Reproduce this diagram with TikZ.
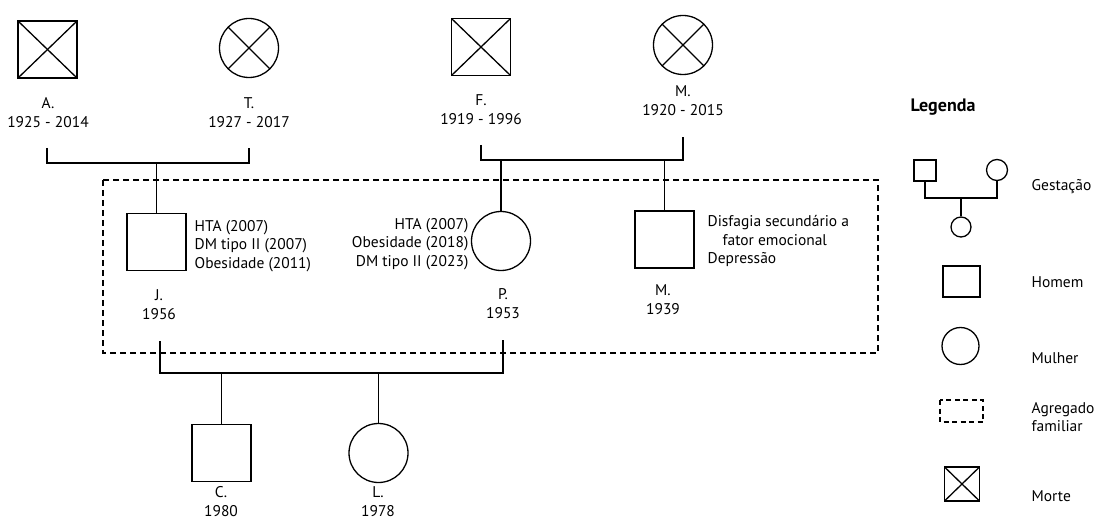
\documentclass[tikz,border=0pt]{standalone}
\usepackage{fontspec}
\setmainfont{PT Sans}
\usetikzlibrary{positioning}

\begin{document}
\begin{tikzpicture}[
    x=1pt, y=-1pt,
    line width=1.3pt,
    man/.style={
        rectangle,
        draw,
        minimum width=59pt,
        minimum height=57pt,
        inner sep=0pt
    },
    woman/.style={
        circle,
        draw,
        minimum size=59pt,
        inner sep=0pt
    },
    dead/.style={
        path picture={
            \draw (path picture bounding box.north west) -- (path picture bounding box.south east);
            \draw (path picture bounding box.north east) -- (path picture bounding box.south west);
        }
    },
    tag/.style={
        align=center,
        inner sep=0pt,
        font=\fontsize{15.5}{19}\selectfont
    },
    note/.style={
        inner sep=0pt,
        font=\fontsize{15.5}{18.5}\selectfont
    },
    household/.style={draw, dashed, dash pattern=on 6pt off 4pt}
]
    \useasboundingbox (0,0) rectangle (1100,521);

    % Grandparents (paternal)
    \node[man, dead] (A) at (47.5,49.5) {};
    \node[woman, dead] (T) at (249,48) {};
    \node[tag] (Atag) at (48,113) {A.\\1925 - 2014};
    \node[tag] (Ttag) at (249,113) {T.\\1927 - 2017};

    % Grandparents (maternal)
    \node[man, dead] (F) at (481,47) {};
    \node[woman, dead] (Mg) at (683,45) {};
    \node[tag] (Ftag) at (481,110) {F.\\1919 - 1996};
    \node[tag] (Mgtag) at (683,101) {M.\\1920 - 2015};

    % Household
    \draw[household] (103,180) rectangle (878,353);

    % Parents and uncle
    \node[man] (J) at (156.5,242) {};
    \node[woman] (P) at (501,241) {};
    \node[man] (Mu) at (664.5,239.5) {};
    \node[tag] (Jtag) at (159,305) {J.\\1956};
    \node[tag] (Ptag) at (503,304) {P.\\1953};
    \node[tag] (Mutag) at (663,300) {M.\\1939};

    % Conditions
    \node[note, align=left, anchor=west] (Jnote) at (194,246)
        {HTA (2007)\\DM tipo II (2007)\\Obesidade (2011)};
    \node[note, align=right, anchor=east] (Pnote) at (469,244)
        {HTA (2007)\\Obesidade (2018)\\DM tipo II (2023)};
    \node[note, align=left, anchor=west] (Munote) at (707,241)
        {Disfagia secundário a\\\hspace{15pt}fator emocional\\Depressão};

    % Children
    \node[man] (C) at (221.5,453) {};
    \node[woman] (L) at (378.5,453) {};
    \node[tag] (Ctag) at (221,502) {C.\\1980};
    \node[tag] (Ltag) at (378,502) {L.\\1978};

    % Connectors
    \coordinate (atL) at (47,148);
    \coordinate (atR) at (249,148);
    \coordinate (atbar) at (0,163);
    \draw (atL) |- (atbar -| atR) -- (atR);
    \draw (J.north) -- (J.north |- atbar);

    \coordinate (fmL) at (481,145);
    \coordinate (fmR) at (683,137);
    \coordinate (fmbar) at (0,160);
    \draw (fmL) |- (fmbar -| fmR) -- (fmR);
    \draw (P.north) -- (P.north |- fmbar);
    \draw (Mu.north) -- (Mu.north |- fmbar);

    \coordinate (jpL) at (160,341);
    \coordinate (jpR) at (503,340);
    \coordinate (jpbar) at (0,373);
    \draw (jpL) |- (jpbar -| jpR) -- (jpR);
    \draw (C.north) -- (C.north |- jpbar);
    \draw (L.north) -- (L.north |- jpbar);

    % Legend
    \node[font=\fontsize{18}{20}\selectfont\bfseries, inner sep=0pt] (legend) at (943,107) {Legenda};

    \node[man, minimum width=22pt, minimum height=21pt] (gm) at (925,170.5) {};
    \node[woman, minimum size=21pt] (gf) at (997,170) {};
    \node[woman, minimum size=20pt] (gc) at (961,227) {};
    \coordinate (gbar) at (0,198);
    \draw (gm.south) |- (gbar -| gf) -- (gf.south);
    \draw (gc.north) -- (gc.north |- gbar);
    \node[note, anchor=west] (gtxt) at (1031,187) {Gestação};

    \node[man, minimum width=37pt, minimum height=31pt] (hm) at (961.5,281.5) {};
    \node[note, anchor=west] (htxt) at (1031,282) {Homem};

    \node[woman, minimum size=37pt] (wm) at (960.5,346) {};
    \node[note, anchor=west] (wtxt) at (1031,358) {Mulher};

    \draw[household, dash pattern=on 5pt off 3.5pt] (940,400) rectangle (983,422);
    \node[note, align=left, anchor=west] (agtxt) at (1031,417) {Agregado\\familiar};

    \node[man, dead, minimum width=35pt, minimum height=34pt] (dm) at (962,484) {};
    \node[note, anchor=west] (dtxt) at (1031,496) {Morte};
\end{tikzpicture}
\end{document}
